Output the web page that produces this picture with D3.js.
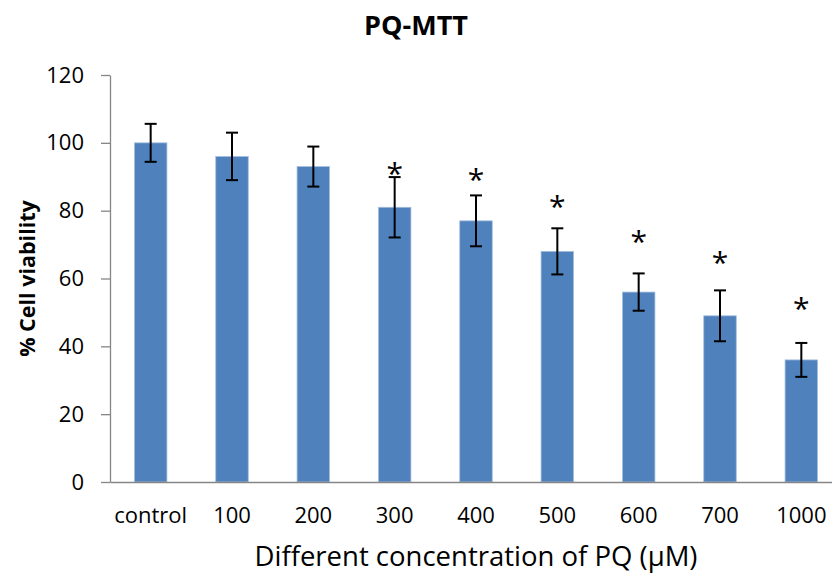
<!DOCTYPE html>
<html>
<head>
<meta charset="utf-8">
<script src="https://cdn.jsdelivr.net/npm/d3@7"></script>
<style>
  body { margin: 0; background: #fff; }
  svg { display: block; font-family: "Open Sans", sans-serif; }
</style>
</head>
<body>
<script>
// chart data
const categories = ["control", "100", "200", "300", "400", "500", "600", "700", "1000"];
const viability = [100, 96, 93, 81, 77, 68, 56, 49, 36];
const errors = [5.6, 7, 5.9, 8.9, 7.5, 6.8, 5.5, 7.5, 5];
const significant = [false, false, false, true, true, true, true, true, true];
const starLevel = [null, null, null, 93, 91, 83, 72.8, 66.6, 53];
const yTicks = [0, 20, 40, 60, 80, 100, 120];

// SVG dimensions
const width = 832, height = 573;
const plotLeft = 110, plotRight = 842, plotTop = 75, plotBottom = 482;

const svg = d3.select("body").append("svg")
    .attr("width", width)
    .attr("height", height);

// scales
let x = d3.scaleBand()
    .domain(categories)
    .range([plotLeft, plotRight])
    .paddingInner(0.6)
    .paddingOuter(0.3);
let y = d3.scaleLinear()
    .domain([0, 120])
    .range([plotBottom, plotTop]);

// y axis
let yAxis = svg.append("g")
    .attr("transform", `translate(${plotLeft}, 0)`)
    .call(d3.axisLeft(y).tickValues(yTicks).tickSize(9).tickSizeOuter(0).tickPadding(17));
yAxis.selectAll("path, line").attr("stroke", "#868686").attr("stroke-width", 1.3);
yAxis.selectAll("text").attr("font-size", 22).attr("fill", "#000")
    .attr("font-family", "Open Sans, sans-serif");

// bars
let data = categories.map((c, i) => ({ c: c, v: viability[i], e: errors[i], s: significant[i], sy: starLevel[i] }));

svg.append("g").selectAll("rect")
    .data(data)
    .join("rect")
    .attr("x", d => x(d.c))
    .attr("y", d => y(d.v))
    .attr("width", x.bandwidth())
    .attr("height", d => y(0) - y(d.v))
    .attr("fill", "#4f81bd")
    .attr("stroke", "#a7c0de")
    .attr("stroke-width", 0.8);

// x axis line (no ticks)
let xAxis = svg.append("g")
    .attr("transform", `translate(0, ${plotBottom})`)
    .call(d3.axisBottom(x).tickSize(0).tickSizeOuter(0).tickPadding(25));
xAxis.select("path").attr("stroke", "#868686").attr("stroke-width", 1.3);
xAxis.selectAll("text").attr("font-size", 22).attr("fill", "#000")
    .attr("font-family", "Open Sans, sans-serif");

// error bars
let eb = svg.append("g").selectAll("g")
    .data(data)
    .join("g")
    .attr("stroke", "#000")
    .attr("stroke-width", 2);
eb.append("line")
    .attr("x1", d => x(d.c) + x.bandwidth() / 2)
    .attr("x2", d => x(d.c) + x.bandwidth() / 2)
    .attr("y1", d => y(d.v + d.e))
    .attr("y2", d => y(d.v - d.e));
eb.append("line")
    .attr("x1", d => x(d.c) + x.bandwidth() / 2 - 6)
    .attr("x2", d => x(d.c) + x.bandwidth() / 2 + 6)
    .attr("y1", d => y(d.v + d.e))
    .attr("y2", d => y(d.v + d.e));
eb.append("line")
    .attr("x1", d => x(d.c) + x.bandwidth() / 2 - 6)
    .attr("x2", d => x(d.c) + x.bandwidth() / 2 + 6)
    .attr("y1", d => y(d.v - d.e))
    .attr("y2", d => y(d.v - d.e));

// significance stars
svg.append("g").selectAll("text")
    .data(data.filter(d => d.s))
    .join("text")
    .attr("x", d => x(d.c) + x.bandwidth() / 2)
    .attr("y", d => y(d.sy) + 17)
    .attr("text-anchor", "middle")
    .attr("font-size", 30)
    .text("*");

// titles
svg.append("text")
    .attr("x", 416)
    .attr("y", 35)
    .attr("text-anchor", "middle")
    .attr("font-size", 27)
    .attr("font-weight", "bold")
    .text("PQ-MTT");

svg.append("text")
    .attr("transform", `translate(35, ${(plotTop + plotBottom) / 2}) rotate(-90)`)
    .attr("text-anchor", "middle")
    .attr("font-size", 21.5)
    .attr("font-weight", "bold")
    .text("% Cell viability");

svg.append("text")
    .attr("x", (plotLeft + plotRight) / 2)
    .attr("y", 566)
    .attr("text-anchor", "middle")
    .attr("font-size", 27.5)
    .text("Different concentration of PQ (μM)");
</script>
</body>
</html>
